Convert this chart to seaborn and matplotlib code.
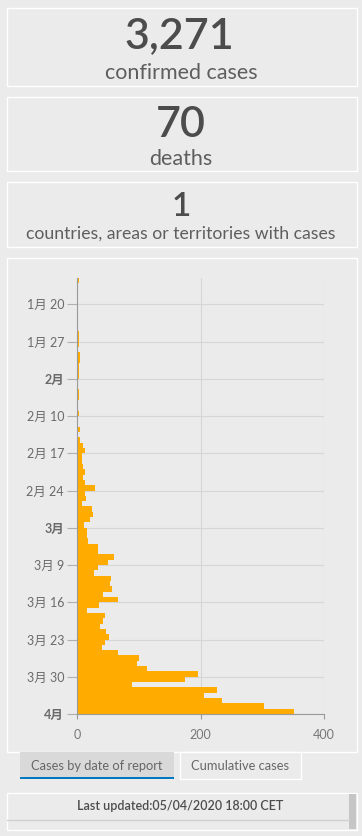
import matplotlib
matplotlib.use('Agg')
import matplotlib.pyplot as plt
from matplotlib.patches import Rectangle
from matplotlib.lines import Line2D
import pandas as pd
import seaborn as sns

# summary numbers
confirmed = '3,271'
deaths = '70'
countries = '1'
updated = 'Last updated:05/04/2020 18:00 CET'

# new cases by date of report, 15 Jan - 5 Apr 2020
start_date = '2020-01-15'
cases_jan = [2, 0, 0, 0, 0, 0, 0, 0, 0, 0, 2, 2, 2, 0, 4, 4, 3]
cases_feb = [3, 3, 0, 0, 3, 2, 0, 0, 2, 0, 0, 4, 0, 4, 9, 12, 8, 8, 9, 12,
             9, 12, 29, 12, 14, 7, 24, 25, 20]
cases_mar = [11, 16, 16, 17, 33, 33, 59, 50, 33, 27, 54, 53, 56, 41, 66, 35,
             16, 45, 41, 37, 46, 51, 45, 40, 66, 100, 96, 113, 195, 174, 88]
cases_apr = [226, 206, 234, 303, 352]

tick_dates = ['2020-01-20', '2020-01-27', '2020-02-03', '2020-02-10', '2020-02-17',
              '2020-02-24', '2020-03-02', '2020-03-09', '2020-03-16', '2020-03-23',
              '2020-03-30', '2020-04-06']
tick_labels = ['1月 20', '1月 27', '2月', '2月 10', '2月 17', '2月 24',
               '3月', '3月 9', '3月 16', '3月 23', '3月 30', '4月']
x_ticks = [0, 200, 400]

page_bg = '#ebebeb'
bar_color = '#ffab00'
dark = '#4c4c4c'
mid = '#5e5e5e'

new_cases = cases_jan + cases_feb + cases_mar + cases_apr
dates = pd.date_range(start_date, periods=len(new_cases), freq='D')
df = pd.DataFrame({'date': dates.strftime('%Y-%m-%d'), 'cases': new_cases})

sns.set_theme(style='white', rc={'axes.facecolor': page_bg, 'figure.facecolor': page_bg})
plt.rcParams['font.family'] = ['Lato', 'Noto Sans CJK JP', 'DejaVu Sans']

W, H = 362, 836
fig = plt.figure(figsize=(W / 100, H / 100), dpi=100)


def box(x, y, w, h, fc=page_bg, ec='white', lw=1.0, z=-2):
    fig.patches.append(Rectangle((x / W, 1 - (y + h) / H), w / W, h / H,
                                 transform=fig.transFigure, facecolor=fc,
                                 edgecolor=ec, linewidth=lw, zorder=z))


def label(x, y, s, size, color, weight='normal', va='baseline'):
    fig.text(x / W, 1 - y / H, s, fontsize=size, color=color, fontweight=weight,
             ha='center', va=va)


# indicator panels
box(6.5, 7.5, 350, 78)
box(6.5, 96.5, 350, 74)
box(6.5, 181.5, 350, 65)
label(179, 48, confirmed, 31, dark, 'semibold')
label(181, 79, 'confirmed cases', 15.5, mid)
label(181, 137, deaths, 31, dark, 'semibold')
label(181, 165, 'deaths', 15.5, mid)
label(181, 216, countries, 24, dark, 'semibold')
label(181, 239, 'countries, areas or territories with cases', 12.7, mid)

# chart panel
box(6.5, 257.5, 350, 494)
box(19.5, 752, 154, 27, fc='#d9d9d9', ec='none')
box(19.5, 777, 154, 2, fc='#0079c1', ec='none', z=-1)
box(179.5, 752, 121, 27)
label(97, 766, 'Cases by date of report', 9.3, '#666666', va='center')
label(240, 766, 'Cumulative cases', 9.3, '#666666', va='center')

# last updated panel
box(6.5, 792.5, 350, 37.5)
box(349, 793.5, 7, 35, fc='#c6c6c6', ec='none', z=-1)
fig.add_artist(Line2D([7 / W, 349 / W], [1 - 820 / H, 1 - 820 / H],
                      transform=fig.transFigure, color='#d0d0d0', lw=1))
label(180, 806, updated, 9, dark, 'semibold', va='center')

ax = fig.add_axes([77.3 / W, 1 - 714 / H, (324 - 77.3) / W, (714 - 277.7) / H])
sns.barplot(data=df, x='cases', y='date', orient='h', color=bar_color,
            saturation=1, width=1.0, linewidth=0, ax=ax)
ax.set_ylim(len(df) - 0.5, -0.5)
ax.set_xlim(0, 400)

start = pd.Timestamp(start_date)
pos = [(pd.Timestamp(d) - start).days - 0.5 for d in tick_dates]
ax.set_yticks(pos)
ax.set_yticklabels(tick_labels)
for t in ax.get_yticklabels():
    if ' ' not in t.get_text():
        t.set_fontweight('bold')
ax.set_xticks(x_ticks)
ax.set_xlabel('')
ax.set_ylabel('')

ax.set_axisbelow(True)
ax.grid(True, color='#d6d6d6', lw=0.8)
sns.despine(ax=ax, top=True, right=True)
for s in ['left', 'bottom']:
    ax.spines[s].set_color('#9a9a9a')
    ax.spines[s].set_linewidth(0.8)
ax.tick_params(axis='y', length=7.5, width=0.8, color='#b0b0b0', pad=2,
               labelsize=9, labelcolor='#6a6a6a', left=True)
ax.tick_params(axis='x', length=3.6, width=0.8, color='#9a9a9a', pad=7,
               labelsize=9, labelcolor='#777777', bottom=True)

fig.savefig('out.png', dpi=100, facecolor=page_bg)
